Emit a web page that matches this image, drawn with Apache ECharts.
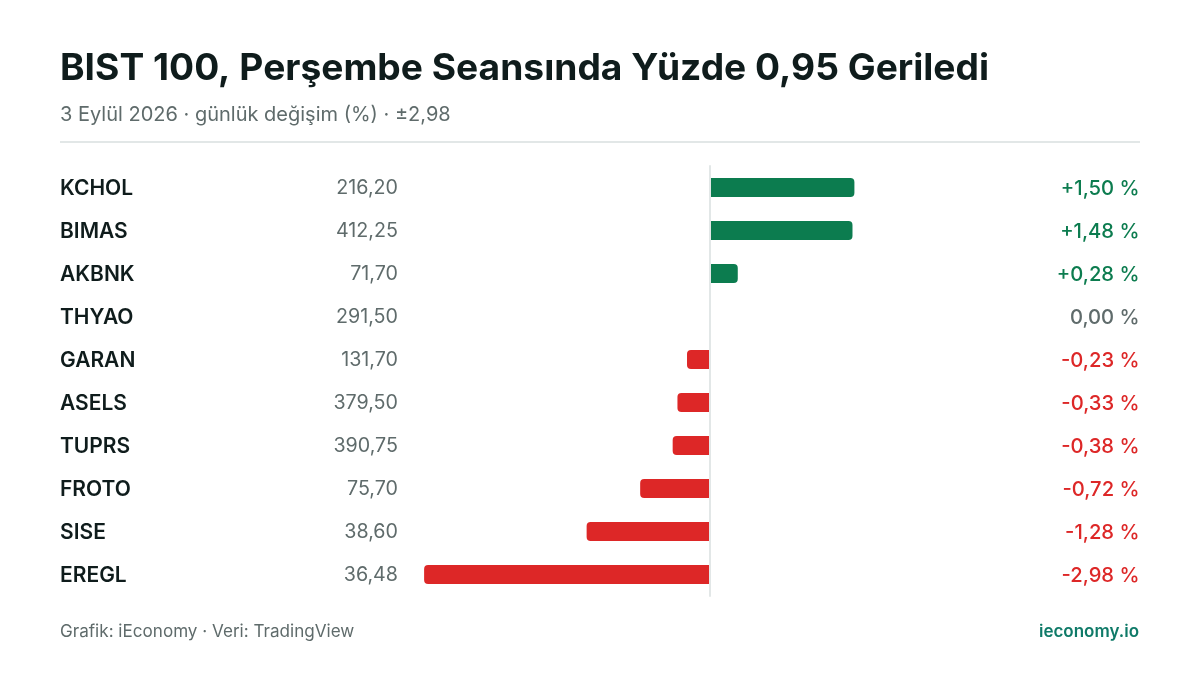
<!DOCTYPE html>
<html><head><meta charset="utf-8">
<style>html,body{margin:0;padding:0;background:#fff}#c{width:1200px;height:675px}</style>
<script src="https://cdn.jsdelivr.net/npm/echarts@6/dist/echarts.min.js"></script>
</head><body><div id="c"></div>
<script>
const tickers = ['KCHOL','BIMAS','AKBNK','THYAO','GARAN','ASELS','TUPRS','FROTO','SISE','EREGL'];
const prices = ['216,20','412,25','71,70','291,50','131,70','379,50','390,75','75,70','38,60','36,48'];
const changes = [1.50,1.48,0.28,0.00,-0.23,-0.33,-0.38,-0.72,-1.28,-2.98];
const changeLabels = ['+1,50 %','+1,48 %','+0,28 %','0,00 %','-0,23 %','-0,33 %','-0,38 %','-0,72 %','-1,28 %','-2,98 %'];
const titleText = 'BIST 100, Perşembe Seansında Yüzde 0,95 Geriledi';
const subtitleText = '3 Eylül 2026 · günlük değişim (%) · ±2,98';
const sourceText = 'Grafik: iEconomy · Veri: TradingView';
const brandText = 'ieconomy.io';

const UP='#0c7c4f', DOWN='#dd2727', FLAT='#5f6b6b', INK='#0f1c1c', MUTED='#5f6b6b', RULE='#e2e7e7';
const F='Inter';
const colorOf = v => v>0?UP:v<0?DOWN:FLAT;
const hidden = {axisLine:{show:false,onZero:false},axisTick:{show:false},splitLine:{show:false}};
const chart = echarts.init(document.getElementById('c'),null,{renderer:'canvas'});
chart.setOption({
  animation:false, backgroundColor:'#fff',
  title:[
    {text:titleText,left:60,top:46.5,padding:0,textStyle:{fontFamily:F,fontSize:37.2,fontWeight:700,color:INK,lineHeight:44}},
    {text:subtitleText,left:60,top:103,padding:0,textStyle:{fontFamily:F,fontSize:20,fontWeight:400,color:MUTED,lineHeight:24}},
    {text:sourceText,left:60,top:622,padding:0,textStyle:{fontFamily:F,fontSize:17.1,fontWeight:400,color:MUTED,lineHeight:20}},
    {text:brandText,right:61,top:622,padding:0,textStyle:{fontFamily:F,fontSize:17,fontWeight:600,color:'#0f7a68',lineHeight:20}}
  ],
  graphic:[{type:'rect',shape:{x:60,y:141,width:1080,height:2},style:{fill:RULE},silent:true}],
  grid:[
    {left:422.2,top:166,width:286.8,height:430},
    {left:711,top:166,width:286.8,height:430},
    {left:422,top:167,width:576,height:430}
  ],
  xAxis:[
    {type:'value',gridIndex:0,min:-3,max:0,show:false},
    {type:'value',gridIndex:1,min:0,max:3,show:false},
    {type:'value',gridIndex:2,min:-3,max:3,show:false}
  ],
  yAxis:[
    {type:'category',gridIndex:0,inverse:true,data:tickers,z:5,position:'right',offset:1,
     axisLine:{show:true,onZero:false,lineStyle:{color:RULE,width:2}},axisTick:{show:false},axisLabel:{show:false},splitLine:{show:false}},
    {type:'category',gridIndex:1,inverse:true,data:tickers,position:'left',...hidden,axisLabel:{show:false}},
    {type:'category',gridIndex:2,inverse:true,data:tickers,position:'left',...hidden,
     axisLabel:{show:true,margin:362,align:'left',fontFamily:F,fontSize:21,fontWeight:600,color:INK}},
    {type:'category',gridIndex:2,inverse:true,data:prices,position:'left',...hidden,
     axisLabel:{show:true,margin:24,align:'right',fontFamily:F,fontSize:19.7,fontWeight:400,color:MUTED}},
    {type:'category',gridIndex:2,inverse:true,data:changeLabels,position:'right',...hidden,
     axisLabel:{show:true,margin:141.5,align:'right',fontFamily:F,fontSize:20.2,fontWeight:500,
       color:(val)=>colorOf(changes[changeLabels.indexOf(val)])}}
  ],
  series:[
    {type:'bar',xAxisIndex:0,yAxisIndex:0,barWidth:19,z:2,
     data:changes.map(v=>v<0?v:null),itemStyle:{color:DOWN,borderRadius:[4,0,0,4]}},
    {type:'bar',xAxisIndex:1,yAxisIndex:1,barWidth:19,z:2,
     data:changes.map(v=>v>0?v:null),itemStyle:{color:UP,borderRadius:[0,4,4,0]}}
  ]
});
</script></body></html>
